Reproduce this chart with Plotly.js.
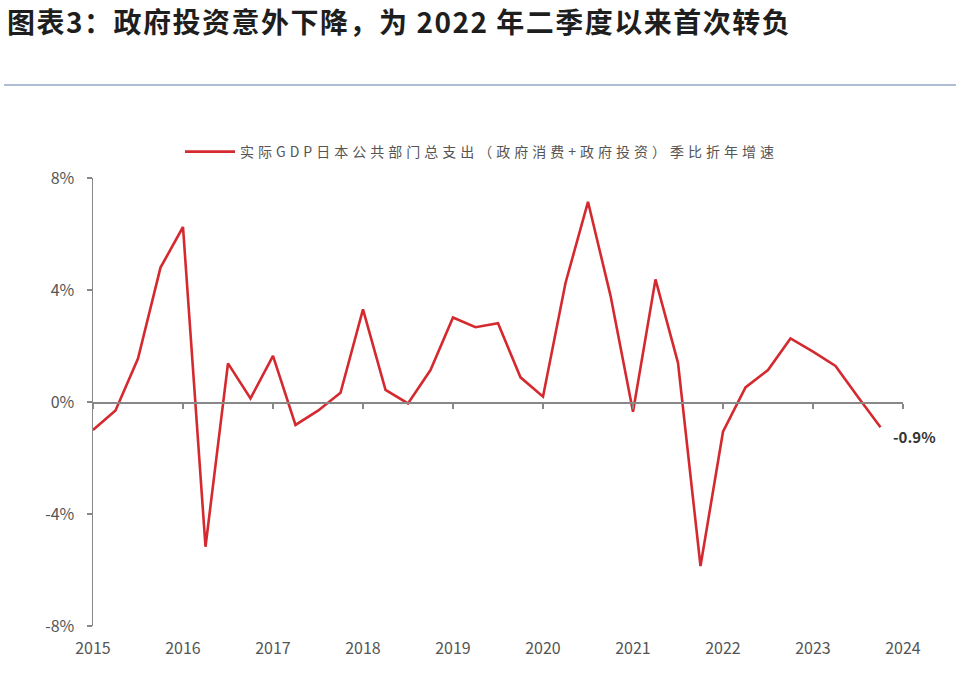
<!DOCTYPE html>
<html>
<head>
<meta charset="utf-8">
<script src="https://cdn.plot.ly/plotly-3.0.1.min.js"></script>
<style>
  html, body { margin: 0; padding: 0; background: #fff; }
  #chart { width: 969px; height: 676px; }
  /* the source uses widely spaced CJK text */
  #chart .legendtext { letter-spacing: 4px; }
  #chart .gtitle { letter-spacing: 1.5px; }
</style>
</head>
<body>
<div id="chart"></div>
<script>
// quarterly, 2015Q1 .. 2023Q4
const quarters = [];
for (let yr = 2015; yr <= 2023; yr++) {
    for (let q = 0; q < 4; q++) quarters.push(yr + q / 4);
}

const growth = [
    -1.0, -0.3, 1.55, 4.8,
    6.25, -5.17, 1.38, 0.13,
    1.65, -0.82, -0.31, 0.33,
    3.31, 0.43, -0.05, 1.14,
    3.02, 2.67, 2.81, 0.88,
    0.19, 4.25, 7.15, 3.8,
    -0.35, 4.38, 1.4, -5.86,
    -1.06, 0.52, 1.14, 2.27,
    1.8, 1.29, 0.18, -0.9
];

const yearTicks = [2015, 2016, 2017, 2018, 2019, 2020, 2021, 2022, 2023, 2024];
const pctTicks = [-8, -4, 0, 4, 8];
const pctLabels = ['-8%', '-4%', '0%', '4%', '8%'];

const seriesName = '实际GDP日本公共部门总支出（政府消费+政府投资）季比折年增速';
const chartTitle = '图表3：政府投资意外下降，为 2022 年二季度以来首次转负';

const W = 969, H = 676;
const margin = {l: 93, r: 66, t: 178, b: 50, pad: 0};
const plotW = W - margin.l - margin.r;
const plotH = H - margin.t - margin.b;
const cjk = '"Noto Sans CJK SC", "Noto Sans", sans-serif';

const data = [
    {
        x: quarters,
        y: growth,
        type: 'scatter',
        mode: 'lines',
        name: seriesName,
        line: {color: '#d42a2f', width: 2.6},
        hoverinfo: 'skip'
    },
    {
        // carries the x2 axis (the tick line at 0%), not visible itself
        x: quarters,
        y: growth,
        xaxis: 'x2',
        type: 'scatter',
        mode: 'lines',
        opacity: 0,
        showlegend: false,
        hoverinfo: 'skip'
    }
];

const layout = {
    width: W,
    height: H,
    margin: margin,
    paper_bgcolor: '#fff',
    plot_bgcolor: '#fff',
    title: {
        text: chartTitle,
        x: 7 / W,
        xref: 'container',
        xanchor: 'left',
        y: 1 - 23 / H,
        yref: 'container',
        yanchor: 'middle',
        font: {family: cjk, size: 28, color: '#1e1e1e', weight: 'bold'}
    },
    showlegend: true,
    legend: {
        orientation: 'h',
        x: 180 / W,
        xref: 'container',
        xanchor: 'left',
        y: 1 - 152 / H,
        yref: 'container',
        yanchor: 'middle',
        itemwidth: 50,
        entrywidth: 640,
        entrywidthmode: 'pixels',
        font: {family: cjk, size: 14, color: '#555'},
        bgcolor: 'rgba(0,0,0,0)'
    },
    xaxis: {
        range: [2015, 2024],
        tickvals: yearTicks,
        ticktext: yearTicks.map(String),
        ticks: '',
        showline: false,
        showgrid: false,
        zeroline: false,
        ticklabelstandoff: 11,
        tickfont: {family: cjk, size: 16, color: '#555'},
        fixedrange: true
    },
    xaxis2: {
        overlaying: 'x',
        anchor: 'free',
        position: 0.5,
        range: [2015, 2024],
        tickvals: yearTicks,
        ticks: 'outside',
        ticklen: 5,
        tickwidth: 1.3,
        tickcolor: '#888',
        showline: true,
        linecolor: '#888',
        linewidth: 1.5,
        showticklabels: false,
        showgrid: false,
        zeroline: false,
        fixedrange: true
    },
    yaxis: {
        range: [-8, 8],
        tickvals: pctTicks,
        ticktext: pctLabels,
        ticks: 'outside',
        ticklen: 5,
        tickwidth: 1.3,
        tickcolor: '#888',
        showline: true,
        linecolor: '#888',
        linewidth: 1.5,
        showgrid: false,
        zeroline: false,
        ticklabelstandoff: 9,
        tickfont: {family: cjk, size: 16, color: '#555'},
        fixedrange: true
    },
    shapes: [
        {
            // separator under the heading
            type: 'line',
            xref: 'paper',
            yref: 'paper',
            x0: (4 - margin.l) / plotW,
            x1: (956 - margin.l) / plotW,
            y0: (H - margin.b - 85) / plotH,
            y1: (H - margin.b - 85) / plotH,
            line: {color: '#aebdd3', width: 2}
        }
    ],
    annotations: [
        {
            x: quarters[quarters.length - 1],
            y: growth[growth.length - 1],
            text: '<b>-0.9%</b>',
            showarrow: false,
            xanchor: 'left',
            yanchor: 'middle',
            xshift: 10,
            yshift: -9,
            font: {family: cjk, size: 15, color: '#333'}
        }
    ]
};

Plotly.newPlot('chart', data, layout, {displayModeBar: false, staticPlot: true});
</script>
</body>
</html>
